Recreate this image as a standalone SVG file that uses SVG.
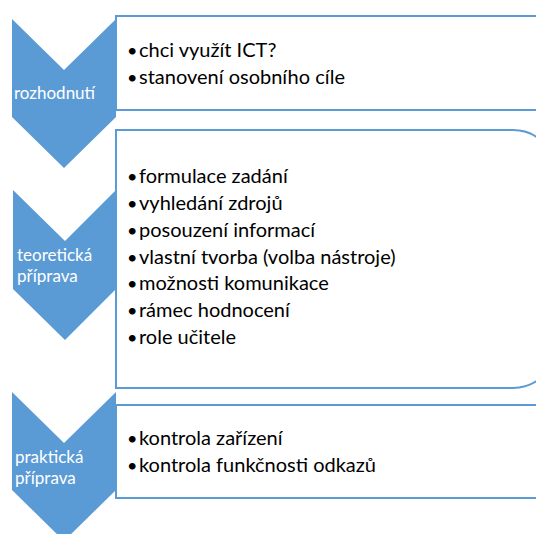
<svg xmlns="http://www.w3.org/2000/svg" width="536" height="534" viewBox="0 0 536 534">
<style>
.chev{fill:#5B9BD5;stroke:none}
.box{fill:#FFFFFF;stroke:#5B9BD5;stroke-width:2}
.t{font-family:Lato,"Liberation Sans",sans-serif;font-size:20px;fill:#000}
.b{font-family:Lato,"Liberation Sans",sans-serif;font-size:18px;fill:#000}
.w{font-family:Lato,"Liberation Sans",sans-serif;font-size:17px;fill:#FFFFFF}
</style>
<rect width="536" height="534" fill="#FFFFFF"/>
<g id="node1">
<path class="chev" d="M12,19 L64,70 L116,19 L116,117 L64,168 L12,117 Z"/>
<path class="box" d="M116,16 L540,16 A16,16 0 0 1 556,32 L556,94 A16,16 0 0 1 540,110 L116,110 Z"/>
<text class="w" x="14" y="99">rozhodnutí</text>
<text class="b" x="127" y="57">•</text><text class="t" x="139" y="57">chci využít ICT?</text>
<text class="b" x="127" y="84">•</text><text class="t" x="139" y="84">stanovení osobního cíle</text>
</g>
<g id="node2">
<path class="chev" d="M13,190 L65,241 L116,190 L116,289 L65,340 L13,289 Z"/>
<path class="box" d="M116,130 L513,130 A43,43 0 0 1 556,173 L556,345 A43,43 0 0 1 513,388 L116,388 Z"/>
<text class="w" x="17" y="261">teoretická</text>
<text class="w" x="17" y="282">příprava</text>
<text class="b" x="127" y="183">•</text><text class="t" x="139" y="183">formulace zadání</text>
<text class="b" x="127" y="210">•</text><text class="t" x="139" y="210">vyhledání zdrojů</text>
<text class="b" x="127" y="237">•</text><text class="t" x="139" y="237">posouzení informací</text>
<text class="b" x="127" y="263.5">•</text><text class="t" x="139" y="263.5">vlastní tvorba (volba nástroje)</text>
<text class="b" x="127" y="290">•</text><text class="t" x="139" y="290">možnosti komunikace</text>
<text class="b" x="127" y="317">•</text><text class="t" x="139" y="317">rámec hodnocení</text>
<text class="b" x="127" y="344">•</text><text class="t" x="139" y="344">role učitele</text>
</g>
<g id="node3">
<path class="chev" d="M12,392 L64,443 L116,392 L116,490 L64,541 L12,490 Z"/>
<path class="box" d="M116,405 L540,405 A16,16 0 0 1 556,421 L556,482 A16,16 0 0 1 540,498 L116,498 Z"/>
<text class="w" x="15" y="463">praktická</text>
<text class="w" x="15" y="484">příprava</text>
<text class="b" x="127" y="445">•</text><text class="t" x="139" y="445">kontrola zařízení</text>
<text class="b" x="127" y="472">•</text><text class="t" x="139" y="472">kontrola funkčnosti odkazů</text>
</g>
<g id="connectors"></g>
</svg>
